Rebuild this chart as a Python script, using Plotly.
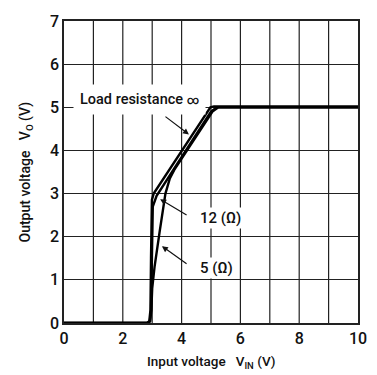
import plotly.graph_objects as go

# Data
x_inf = [0, 2.82, 2.9, 2.94, 2.96, 2.99, 3.05, 4.9, 4.98, 5.1, 10]
y_inf = [0, 0, 0.04, 0.3, 1.5, 2.85, 3.0, 4.93, 5.0, 5.02, 5.02]

x_12 = [0, 2.84, 2.92, 2.96, 2.99, 3.02, 3.15, 5.0, 5.2, 10]
y_12 = [0, 0, 0.04, 0.3, 1.5, 2.7, 2.95, 4.9, 5.0, 5.0]

x_5 = [0, 2.85, 2.93, 2.97, 3.0, 3.08, 3.25, 3.45, 3.6, 3.75, 5.05, 5.25, 10]
y_5 = [0, 0, 0.04, 0.3, 0.8, 1.3, 2.1, 3.0, 3.35, 3.55, 4.9, 5.0, 5.0]

x_ticks = [0, 2, 4, 6, 8, 10]
y_ticks = [0, 1, 2, 3, 4, 5, 6, 7]

FONT = "Roboto, Liberation Sans, Arial, sans-serif"
TXT = "#111"

fig = go.Figure()
for xs, ys in [(x_5, y_5), (x_12, y_12), (x_inf, y_inf)]:
    fig.add_trace(go.Scatter(x=xs, y=ys, mode="lines",
                             line=dict(color="black", width=2.4),
                             showlegend=False, hoverinfo="skip"))

fig.update_layout(
    width=377, height=375,
    margin=dict(l=64, r=10, t=21, b=52),
    paper_bgcolor="white", plot_bgcolor="white",
    font=dict(family=FONT, size=14, color=TXT, weight=500),
)
fig.update_xaxes(range=[0, 10], tickvals=x_ticks, ticktext=[str(v) for v in x_ticks],
                 showgrid=False, zeroline=False, showline=True, mirror=True,
                 linecolor="#222", linewidth=1.5, ticks="",
                 tickfont=dict(size=16, color=TXT, family=FONT, weight=500))
fig.update_yaxes(range=[0, 7], tickvals=y_ticks, ticktext=[str(v) for v in y_ticks],
                 showgrid=True, gridcolor="#222", gridwidth=1.2, zeroline=False,
                 showline=True, mirror=True, linecolor="#222", linewidth=1.5,
                 ticks="", tickfont=dict(size=16, color=TXT, family=FONT, weight=500))

# vertical grid every 1 V
for gx in range(1, 10):
    fig.add_shape(type="line", x0=gx, x1=gx, y0=0, y1=7, xref="x", yref="y",
                  line=dict(color="#222", width=1.2), layer="below")

# Labels with white boxes
fig.add_annotation(x=2.56, y=5.18, xref="x", yref="y",
                   text="Load resistance <span style='font-size:12px'>∞</span>",
                   showarrow=False, bgcolor="white",
                   font=dict(size=14.5, color=TXT, family=FONT, weight=500),
                   borderpad=6)
fig.add_annotation(x=5.33, y=2.43, xref="x", yref="y", text="12 (Ω)",
                   showarrow=False, bgcolor="white",
                   font=dict(size=15, color=TXT, family=FONT, weight=500), borderpad=1)
fig.add_annotation(x=5.2, y=1.28, xref="x", yref="y", text="5 (Ω)",
                   showarrow=False, bgcolor="white",
                   font=dict(size=15, color=TXT, family=FONT, weight=500), borderpad=1)

# Arrows
arrows = [((3.4, 4.81), (4.25, 4.37)), ((4.22, 2.48), (3.27, 2.87)), ((4.22, 1.35), (3.33, 1.78))]
for (tx, ty), (hx, hy) in arrows:
    fig.add_annotation(x=hx, y=hy, ax=tx, ay=ty, xref="x", yref="y", axref="x", ayref="y",
                       text="", showarrow=True, arrowhead=2, arrowsize=1, arrowwidth=1.2,
                       arrowcolor="#111")

# Axis titles
fig.add_annotation(x=0.5, y=-0.165, xref="paper", yref="paper", yanchor="bottom",
                   text="Input voltage   V<sub>IN</sub> (V)", showarrow=False,
                   font=dict(size=13.5, color=TXT, family=FONT, weight=500))
fig.add_annotation(x=-0.165, y=0.5, xref="paper", yref="paper", textangle=-90,
                   text="Output voltage   V<sub>O</sub> (V)", showarrow=False,
                   font=dict(size=14, color=TXT, family=FONT, weight=500))

fig.write_html("out.html")
